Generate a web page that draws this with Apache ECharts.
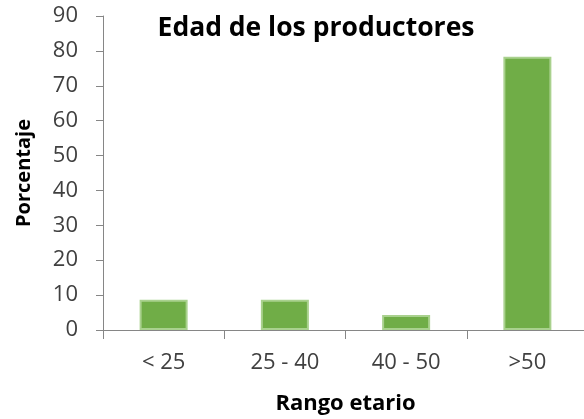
<!DOCTYPE html>
<html><head><meta charset="utf-8">
<script src="https://cdn.jsdelivr.net/npm/echarts@6/dist/echarts.min.js"></script>
<style>html,body{margin:0;padding:0;background:#fff}#c{width:584px;height:419px}</style>
</head><body><div id="c"></div>
<script>
const categories = ['< 25', '25 - 40', '40 - 50', '>50'];
const values = [8.7, 8.7, 4.3, 78.3];
const yTicks = [0, 10, 20, 30, 40, 50, 60, 70, 80, 90];
const font = '"Open Sans", Lato, sans-serif';
const chart = echarts.init(document.getElementById('c'));
chart.setOption({
  animation: false,
  title: {
    text: 'Edad de los productores',
    left: 311, top: 10, textAlign: 'center',
    textStyle: {fontFamily: font, fontSize: 26.5, fontWeight: 'bold', color: '#000'}
  },
  grid: {left: 103, top: 16, bottom: 89, right: -4, outerBoundsMode: 'none', containLabel: false},
  xAxis: {
    type: 'category', data: categories,
    name: 'Rango etario', nameLocation: 'middle', nameGap: 63,
    nameTextStyle: {fontFamily: font, fontSize: 22, fontWeight: 'bold', color: '#000'},
    axisLine: {lineStyle: {color: '#868686', width: 1}},
    axisTick: {show: true, length: 9, alignWithLabel: false, lineStyle: {color: '#868686'}},
    axisLabel: {fontFamily: font, fontSize: 22, color: '#404040', margin: 22}
  },
  yAxis: {
    type: 'value', min: 0, max: 90, interval: 10,
    name: 'Porcentaje', nameLocation: 'middle', nameGap: 69, nameRotate: 90,
    nameTextStyle: {fontFamily: font, fontSize: 20, fontWeight: 'bold', color: '#000'},
    axisLine: {show: true, lineStyle: {color: '#868686', width: 1}},
    axisTick: {show: true, length: 7, lineStyle: {color: '#868686'}},
    splitLine: {show: false},
    axisLabel: {fontFamily: font, fontSize: 22, color: '#404040', margin: 25,
      formatter: v => yTicks.includes(v) ? String(v) : ''}
  },
  series: [{
    type: 'bar', data: values, barWidth: 48,
    itemStyle: {color: '#70AD47', borderColor: '#A9D18E', borderWidth: 2}
  }]
});
</script></body></html>
